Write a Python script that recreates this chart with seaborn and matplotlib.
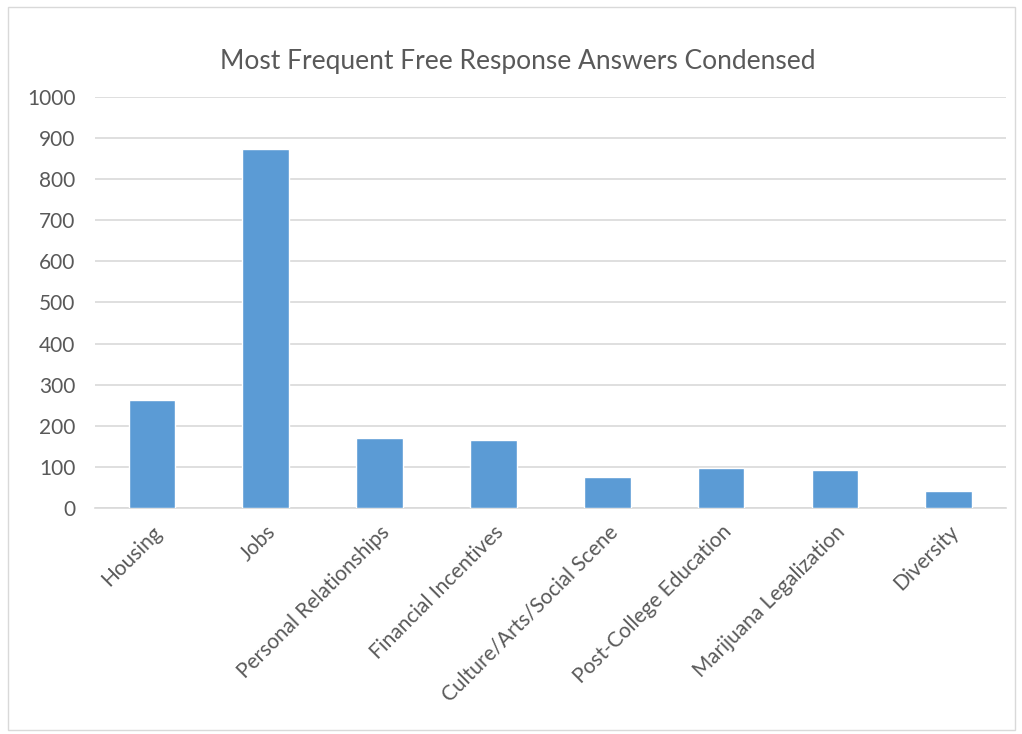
import pandas as pd
import matplotlib
matplotlib.use("Agg")
import matplotlib.pyplot as plt
import seaborn as sns
from matplotlib.patches import Rectangle

# Data
categories = ["Housing", "Jobs", "Personal Relationships", "Financial Incentives",
              "Culture/Arts/Social Scene", "Post-College Education",
              "Marijuana Legalization", "Diversity"]
counts = [263, 873, 170, 165, 75, 97, 92, 42]
y_ticks = [0, 100, 200, 300, 400, 500, 600, 700, 800, 900, 1000]

df = pd.DataFrame({"Category": categories, "Count": counts})

sns.set_style("white")
plt.rcParams["font.family"] = ["Lato", "DejaVu Sans"]

fig = plt.figure(figsize=(10.22, 7.34), dpi=100)
ax = fig.add_axes([0.093, 0.308, 0.891, 0.56])

sns.barplot(data=df, x="Category", y="Count", color="#5B9BD5", width=0.41,
            saturation=1, ax=ax, zorder=3)

ax.set_ylim(0, 1000)
ax.set_xlim(-0.5, len(categories) - 0.5)
ax.set_yticks(y_ticks)
ax.yaxis.grid(True, color="#D9D9D9", linewidth=1.2, zorder=0)
ax.set_axisbelow(True)
for s in ["top", "right", "left"]:
    ax.spines[s].set_visible(False)
ax.spines["bottom"].set_color("#D9D9D9")
ax.spines["bottom"].set_linewidth(1.2)
ax.tick_params(axis="both", length=0, colors="#595959", labelsize=15)
ax.tick_params(axis="y", pad=14)
ax.tick_params(axis="x", pad=10)
plt.setp(ax.get_xticklabels(), rotation=45, ha="right", rotation_mode="anchor")
ax.set_xlabel("")
ax.set_ylabel("")

fig.text(0.507, 0.916, "Most Frequent Free Response Answers Condensed",
         ha="center", va="center", fontsize=19, color="#595959")

# chart border
fig.patches.append(Rectangle((0.008, 0.005), 0.985, 0.985, transform=fig.transFigure,
                             fill=False, edgecolor="#D9D9D9", linewidth=1))

fig.savefig("out.png", dpi=100)
